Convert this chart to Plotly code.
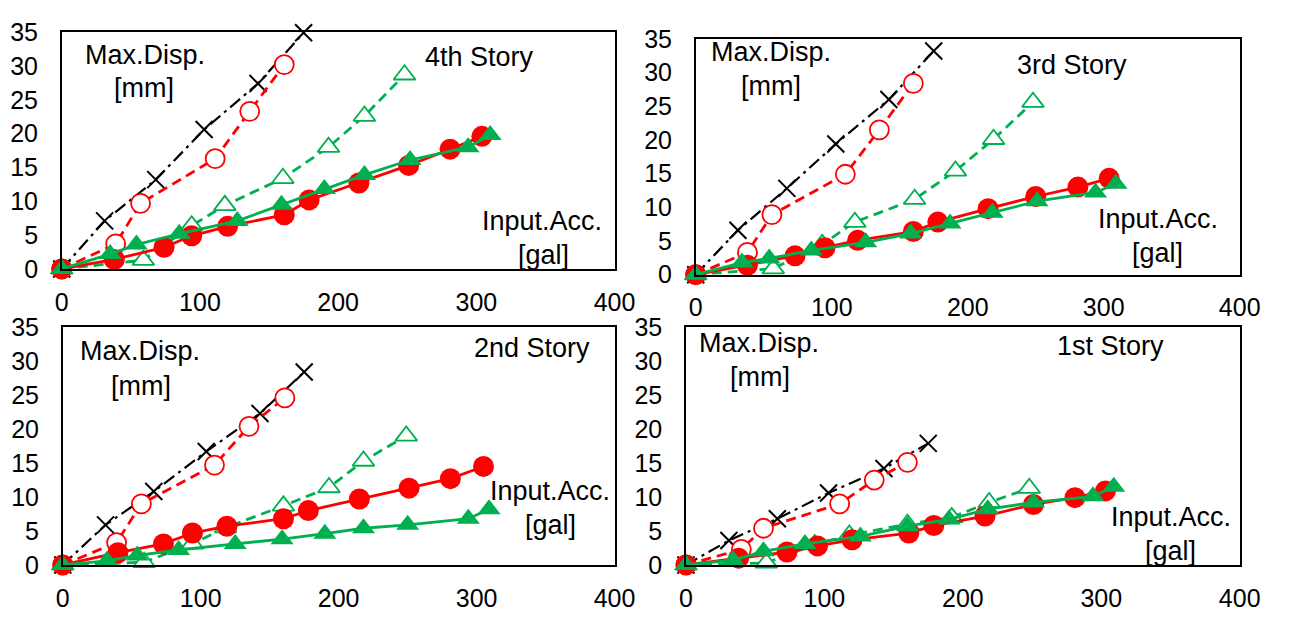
import plotly.graph_objects as go

W, H = 1293, 620

# ---------------- data (Input.Acc. [gal] vs Max.Disp. [mm]) ----------------
stories = ["4th Story", "3rd Story", "2nd Story", "1st Story"]

# black x, dash-dot
x_black = [
    [0, 31, 68, 103, 142, 175],
    [0, 31, 67, 103, 142, 175],
    [0, 31, 66, 104, 143, 175],
    [0, 31, 66, 103, 143, 175],
]
y_black = [
    [0, 7.1, 13.2, 20.6, 27.4, 34.9],
    [0, 6.6, 12.8, 19.4, 26.0, 33.2],
    [0, 5.9, 10.8, 16.7, 22.3, 28.4],
    [0, 3.6, 6.8, 10.6, 14.2, 17.9],
]
# red open circle, dashed
x_red_open = [
    [0, 39, 57, 111, 136, 161],
    [0, 38, 56, 110, 135, 160],
    [0, 39, 57, 110, 135, 161],
    [0, 40, 56, 111, 136, 160],
]
y_red_open = [
    [0, 3.7, 9.7, 16.3, 23.3, 30.2],
    [0, 3.3, 8.9, 14.9, 21.5, 28.4],
    [0, 3.3, 9.0, 14.7, 20.4, 24.6],
    [0, 2.3, 5.4, 9.0, 12.5, 15.1],
]
# green open triangle, dashed
x_green_open = [
    [0, 59, 94, 118, 160, 193, 219, 248],
    [0, 57, 93, 117, 161, 191, 219, 248],
    [0, 59, 94, 118, 160, 193, 218, 249],
    [0, 58, 93, 118, 160, 192, 219, 248],
]
y_green_open = [
    [0, 1.3, 6.4, 9.4, 13.4, 18.0, 22.6, 28.7],
    [0, 0.9, 4.5, 7.8, 11.2, 15.4, 20.1, 25.6],
    [0, 0.4, 3.1, 5.5, 8.7, 11.4, 15.3, 19.0],
    [0, 0.3, 3.0, 4.4, 6.0, 7.0, 9.2, 11.3],
]
# red filled circle, solid
x_red_fill = [
    [0, 38, 74, 94, 120, 161, 179, 215, 251, 281, 304],
    [0, 38, 73, 95, 119, 160, 178, 215, 250, 281, 304],
    [0, 40, 73, 94, 119, 160, 178, 215, 251, 281, 305],
    [0, 38, 73, 95, 120, 161, 179, 216, 251, 281, 303],
]
y_red_fill = [
    [0, 1.4, 3.2, 4.9, 6.3, 8.0, 10.2, 12.7, 15.3, 17.7, 19.6],
    [0, 1.4, 2.8, 4.0, 5.1, 6.4, 7.8, 9.8, 11.6, 13.0, 14.3],
    [0, 1.8, 3.1, 4.7, 5.7, 6.8, 8.0, 9.7, 11.3, 12.7, 14.5],
    [0, 1.0, 1.9, 2.8, 3.7, 4.7, 5.8, 7.2, 8.9, 9.9, 10.9],
]
# green filled triangle, solid
x_green_fill = [
    [0, 35, 54, 85, 127, 159, 190, 219, 252, 294, 310],
    [0, 34, 54, 85, 125, 158, 187, 218, 251, 294, 309],
    [0, 32, 54, 84, 125, 159, 190, 218, 250, 294, 309],
    [0, 34, 56, 86, 126, 160, 190, 218, 251, 294, 309],
]
y_green_fill = [
    [0, 2.2, 3.6, 5.2, 7.1, 9.5, 11.8, 13.9, 16.1, 18.0, 19.8],
    [0, 1.8, 2.4, 3.6, 4.8, 6.1, 7.6, 9.2, 10.9, 12.2, 13.5],
    [0, 0.6, 1.4, 2.2, 3.1, 3.8, 4.6, 5.4, 5.9, 6.8, 8.2],
    [0, 0.7, 2.0, 3.1, 4.2, 5.7, 6.7, 8.2, 9.2, 10.1, 11.5],
]

x_ticks = [0, 100, 200, 300, 400]
y_ticks = [0, 5, 10, 15, 20, 25, 30, 35]

# ---------------- layout geometry (pixels) ----------------
boxes = [  # left, right, top, bottom
    (56, 621, 19, 267),
    (704, 1260, 26, 273),
    (57, 621, 328, 577),
    (694, 1260, 328, 577),
]
labels_pos = [  # MaxDisp, mm, story, InputAcc, gal  (px centers)
    [(141, 43), (140, 77), (483, 45), (547, 217), (548, 252)],
    [(781, 40), (781, 75), (1089, 53), (1176, 215), (1176, 250)],
    [(136, 353), (137, 390), (537, 350), (555, 500), (556, 535)],
    [(769, 345), (770, 380), (1128, 348), (1190, 527), (1189, 562)],
]

RED = "#FF0000"
GREEN = "#00B050"
FONT = "Liberation Sans"

fig = go.Figure()

for i in range(4):
    xa = "x" if i == 0 else f"x{i+1}"
    ya = "y" if i == 0 else f"y{i+1}"
    common = dict(xaxis=xa, yaxis=ya, mode="lines+markers", showlegend=False,
                  cliponaxis=False, hoverinfo="x+y")
    fig.add_trace(go.Scatter(x=x_black[i], y=y_black[i],
                             line=dict(color="black", width=2.2, dash="13px,5px,3px,5px"),
                             marker=dict(symbol="x-thin", size=17,
                                         line=dict(color="black", width=2)),
                             **common))
    fig.add_trace(go.Scatter(x=x_red_open[i], y=y_red_open[i],
                             line=dict(color=RED, width=2.8, dash="10px,6px"),
                             marker=dict(symbol="circle", size=19, color="white",
                                         line=dict(color=RED, width=1.8)),
                             **common))
    fig.add_trace(go.Scatter(x=x_green_open[i], y=y_green_open[i],
                             line=dict(color=GREEN, width=2.8, dash="10px,6px"),
                             marker=dict(symbol="triangle-up", size=19, color="white",
                                         line=dict(color=GREEN, width=1.8)),
                             **common))
    fig.add_trace(go.Scatter(x=x_red_fill[i], y=y_red_fill[i],
                             line=dict(color=RED, width=2.8),
                             marker=dict(symbol="circle", size=21, color=RED),
                             **common))
    fig.add_trace(go.Scatter(x=x_green_fill[i], y=y_green_fill[i],
                             line=dict(color=GREEN, width=2.8),
                             marker=dict(symbol="triangle-up", size=20, color=GREEN),
                             **common))

layout = dict(
    width=W, height=H,
    margin=dict(l=0, r=0, t=0, b=0),
    paper_bgcolor="white", plot_bgcolor="white",
    font=dict(family=FONT, color="black", size=25),
)

annotations = []
for i, (l, r, t, b) in enumerate(boxes):
    suffix = "" if i == 0 else str(i + 1)
    axis_common = dict(showgrid=False, zeroline=False, showline=True, mirror=True,
                       linecolor="black", linewidth=1.5, ticks="outside",
                       tickcolor="rgba(0,0,0,0)",
                       tickfont=dict(family=FONT, size=25, color="black"),
                       fixedrange=True)
    layout["xaxis" + suffix] = dict(domain=[l / W, r / W], range=[0, 400],
                                    tickvals=x_ticks, anchor="y" + suffix,
                                    ticklen=10, **axis_common)
    layout["yaxis" + suffix] = dict(domain=[1 - b / H, 1 - t / H], range=[0, 35],
                                    tickvals=y_ticks, anchor="x" + suffix,
                                    ticklen=17, **axis_common)
    texts = ["Max.Disp.", "[mm]", stories[i], "Input.Acc.", "[gal]"]
    for txt, (px, py) in zip(texts, labels_pos[i]):
        annotations.append(dict(text=txt, x=px / W, y=1 - py / H, xref="paper",
                                yref="paper", xanchor="center", yanchor="middle",
                                showarrow=False,
                                font=dict(family=FONT, size=27, color="black")))

layout["annotations"] = annotations
fig.update_layout(**layout)

fig.write_html("out.html")
